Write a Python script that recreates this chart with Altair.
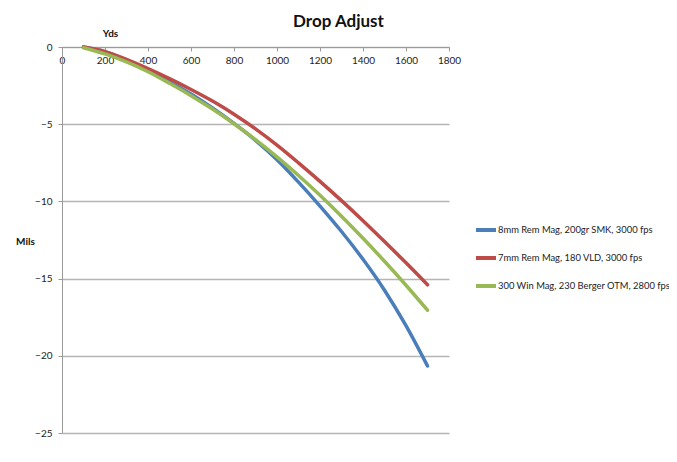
import altair as alt
import pandas as pd

yds = [100, 200, 300, 400, 500, 600, 700, 800, 900, 1000, 1100, 1200, 1300, 1400, 1500, 1600, 1700]
s_8mm = [0, -0.3, -0.85, -1.5, -2.25, -3.05, -3.95, -4.95, -6.05, -7.3, -8.75, -10.3, -11.95, -13.75, -15.75, -18.05, -20.66]
s_7mm = [0, -0.3, -0.8, -1.4, -2.05, -2.75, -3.5, -4.35, -5.3, -6.35, -7.5, -8.7, -9.95, -11.25, -12.6, -13.98, -15.4]
s_300 = [-0.05, -0.45, -0.97, -1.6, -2.35, -3.15, -4.02, -4.97, -6.0, -7.12, -8.32, -9.6, -10.96, -12.39, -13.88, -15.43, -17.05]

names = ["8mm Rem Mag, 200gr SMK, 3000 fps",
         "7mm Rem Mag, 180 VLD, 3000 fps",
         "300 Win Mag, 230 Berger OTM, 2800 fps"]
colors = ["#4a7ebb", "#be4b48", "#98b954"]

rows = []
for name, vals in zip(names, [s_8mm, s_7mm, s_300]):
    for x, v in zip(yds, vals):
        rows.append({"Yds": x, "Mils": v, "Load": name})
df = pd.DataFrame(rows)

FONT = "Lato"
W, H = 387, 386

chart = alt.Chart(df).mark_line(strokeWidth=3.5, interpolate="monotone", strokeCap="round").encode(
    x=alt.X("Yds:Q",
            scale=alt.Scale(domain=[0, 1800], nice=False),
            axis=alt.Axis(orient="bottom", offset=-H, values=list(range(0, 1801, 200)),
                          format="d", grid=False, domainColor="#9a9a9a", tickColor="#9a9a9a",
                          tickSize=4, labelPadding=4, labelFontSize=10, labelColor="#222",
                          labelFont=FONT, title="Yds", titleFont=FONT, titleFontSize=10,
                          titleFontWeight="bold", titleX=48, titleY=-14, titleBaseline="middle",
                          titleColor="#111", labelFlush=False)),
    y=alt.Y("Mils:Q",
            scale=alt.Scale(domain=[-25, 0], nice=False),
            axis=alt.Axis(values=[0, -5, -10, -15, -20, -25], grid=True, gridColor="#b5b5b5",
                          gridWidth=1.5, domainColor="#9a9a9a", tickColor="#9a9a9a",
                          tickSize=4, labelPadding=6, labelFontSize=10, labelColor="#222",
                          labelFont=FONT, title="Mils", titleAngle=0, titleFont=FONT,
                          titleFontSize=10, titleFontWeight="bold", titleX=-37, titleY=194,
                          titleAlign="center", titleBaseline="middle", titleColor="#111")),
    color=alt.Color("Load:N",
                    scale=alt.Scale(domain=names, range=colors),
                    sort=names,
                    legend=alt.Legend(orient="none", legendX=412, legendY=171, title=None,
                                      symbolType="stroke", symbolSize=400, symbolStrokeWidth=4,
                                      labelFont=FONT, labelFontSize=9.4, labelColor="#222",
                                      rowPadding=8, labelOffset=0, labelLimit=300)),
).properties(
    width=W, height=H,
    title=alt.TitleParams("Drop Adjust", font=FONT, fontSize=17, fontWeight="bold",
                          color="#111", anchor="middle", dx=83, dy=11, offset=8),
    autosize=alt.AutoSizeParams(type="none"),
    padding={"left": 54, "top": 39, "right": 220, "bottom": 21},
).configure_view(stroke=None)

chart.save("out.html", embed_options={"renderer": "svg", "actions": False})
